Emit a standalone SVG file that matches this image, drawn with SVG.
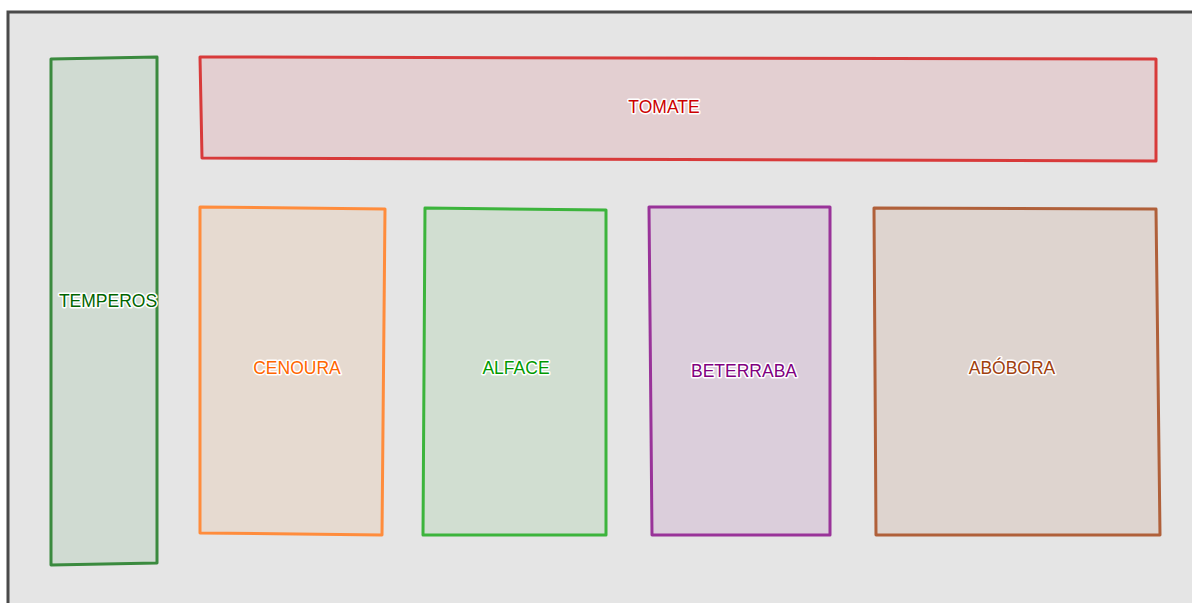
<svg xmlns="http://www.w3.org/2000/svg" width="1192" height="603" viewBox="0 0 1192 603">
  <style>
    .bed { stroke-width: 3; stroke-linejoin: round; }
    .lbl { font-family: "Liberation Sans", Arial, sans-serif; font-size: 17.5px; text-anchor: middle; stroke: #ffffff; stroke-width: 3; stroke-linejoin: round; paint-order: stroke; }
  </style>
  <!-- plot area -->
  <rect x="0" y="0" width="1192" height="603" fill="#ffffff"/>
  <rect x="8" y="12" width="1184" height="591" fill="#e5e5e5"/>
  <path d="M8,603 V12 H1192" fill="none" stroke="#4a4a4a" stroke-width="3"/>

  <g id="temperos">
    <polygon class="bed" points="51,59 157,57 157,563 51,565" fill="#d0dbd2" stroke="#3a8a3e"/>
    <text class="lbl" x="108" y="307" fill="#006400">TEMPEROS</text>
  </g>
  <g id="tomate">
    <polygon class="bed" points="200,57 1156,59 1156,161 202,158" fill="#e3cfd1" stroke="#d83a3a"/>
    <text class="lbl" x="664" y="113" fill="#cc0000">TOMATE</text>
  </g>
  <g id="cenoura">
    <polygon class="bed" points="200,207 385,209 382,535 200,533" fill="#e6dad0" stroke="#ff8c3c"/>
    <text class="lbl" x="297" y="374" fill="#ff6600">CENOURA</text>
  </g>
  <g id="alface">
    <polygon class="bed" points="425,208 606,210 606,535 423,535" fill="#d1ded1" stroke="#3cb43c"/>
    <text class="lbl" x="516" y="374" fill="#009900">ALFACE</text>
  </g>
  <g id="beterraba">
    <polygon class="bed" points="649,207 830,207 830,535 652,535" fill="#dbcedb" stroke="#993399"/>
    <text class="lbl" x="744" y="377" fill="#800080">BETERRABA</text>
  </g>
  <g id="abobora">
    <polygon class="bed" points="874,208 1156,209 1160,535 876,535" fill="#ded4cf" stroke="#b0603a"/>
    <text class="lbl" x="1012" y="374" fill="#a0400e">ABÓBORA</text>
  </g>
  <g id="connectors"/>
</svg>
